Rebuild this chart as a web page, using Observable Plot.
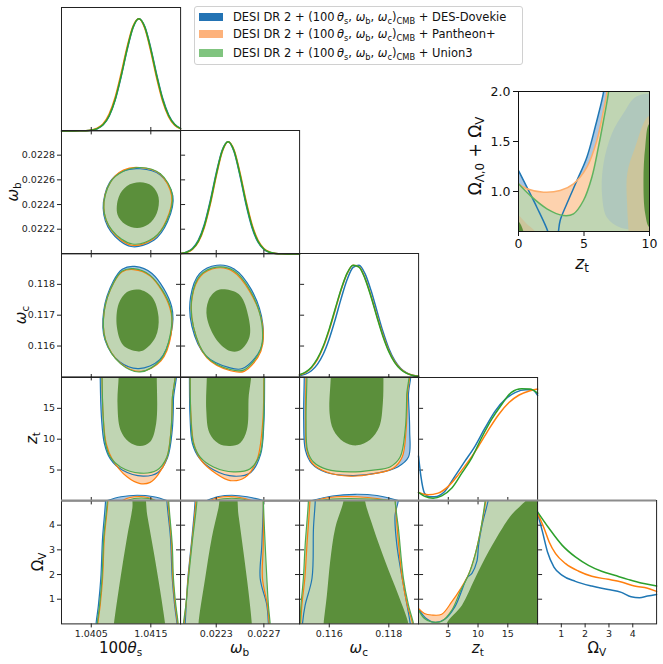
<!DOCTYPE html>
<html><head><meta charset="utf-8">
<script src="https://cdn.jsdelivr.net/npm/d3@7"></script>
<script src="https://cdn.jsdelivr.net/npm/@observablehq/plot@0.6"></script>
<style>
html,body{margin:0;padding:0;background:#fff;}
#fig{position:relative;width:663px;height:664px;overflow:hidden;font-family:"DejaVu Sans",sans-serif;color:#111;}
.lab{position:absolute;white-space:nowrap;transform:translate(-50%,-50%);line-height:1;}
.lab.rot{transform:translate(-50%,-50%) rotate(-90deg);}
.lab sub{font-size:0.7em;vertical-align:-0.3em;line-height:0;}
#legend{position:absolute;left:194px;top:6px;width:327px;height:57px;border:1px solid #d0d0d0;border-radius:3px;background:#fff;font-size:11.5px;}
.item{position:absolute;left:4px;height:14px;display:flex;align-items:center;white-space:nowrap;}
.sw{display:inline-block;width:24px;height:8px;margin-right:10px;}
.item sub{font-size:0.72em;vertical-align:-0.35em;line-height:0;}
</style></head>
<body><div id="fig"></div>
<script>
// ================= DATA =================
const seriesNames = ["DES-Dovekie", "Pantheon+", "Union3"];
const seriesSwatch = ["#2373b4", "#fdb27b", "#80c47f"];

const thDomain = [1.0400, 1.0420], wbDomain = [0.0220, 0.0230], wcDomain = [0.1150, 0.1190], ztDomain = [0, 20], ovDomain = [0, 5];
const thTicks = [1.0405, 1.0415], wbTicksX = [0.0223, 0.0227], wbTicksY = [0.0222, 0.0224, 0.0226, 0.0228];
const wcTicksX = [0.116, 0.118], wcTicksY = [0.116, 0.117, 0.118], ztTicks = [5, 10, 15], ovTicks = [1, 2, 3, 4];
const insetXTicks = [0, 5, 10], insetYTicks = [1.0, 1.5, 2.0];
const rowLabels = ['<i>ω</i><sub>b</sub>', '<i>ω</i><sub>c</sub>', '<i>z</i><sub>t</sub>', 'Ω<sub>V</sub>'];
const colLabels = ['100<i>θ</i><sub>s</sub>', '<i>ω</i><sub>b</sub>', '<i>ω</i><sub>c</sub>', '<i>z</i><sub>t</sub>', 'Ω<sub>V</sub>'];

// 1D marginals
const thetaGrid = [1.0400,1.0401,1.0402,1.0403,1.0404,1.0405,1.0406,1.0407,1.0408,1.0409,1.0410,1.0411,1.0412,1.0413,1.0414,1.0415,1.0416,1.0417,1.0418,1.0419,1.0420];
const thetaPdfB = [0,0,0,0.0003,0.0015,0.005,0.019,0.054,0.131,0.272,0.480,0.718,0.918,1.0,0.928,0.736,0.498,0.288,0.142,0.060,0.022];
const thetaPdfO = [0,0,0,0.0005,0.002,0.008,0.024,0.064,0.150,0.298,0.510,0.745,0.933,1.0,0.912,0.708,0.467,0.262,0.125,0.050,0.018];
const thetaPdfG = [0,0,0,0.0003,0.0015,0.006,0.020,0.056,0.135,0.278,0.487,0.726,0.923,1.0,0.923,0.726,0.487,0.278,0.135,0.056,0.020];

const wbGrid = [0.02200,0.02205,0.02210,0.02215,0.02220,0.02225,0.02230,0.02235,0.02240,0.02245,0.02250,0.02255,0.02260,0.02265,0.02270,0.02275,0.02280,0.02285,0.02290,0.02295,0.02300];
const wbPdfB = [0.0045,0.016,0.048,0.122,0.262,0.474,0.720,0.924,1.0,0.910,0.694,0.442,0.236,0.106,0.040,0.012,0.003,0.0007,0.0001,0,0];
const wbPdfO = [0.0033,0.0125,0.040,0.106,0.236,0.441,0.692,0.908,1.0,0.926,0.722,0.476,0.264,0.123,0.048,0.016,0.0045,0.001,0.0001,0,0];
const wbPdfG = [0.0039,0.0142,0.0439,0.114,0.249,0.458,0.707,0.917,1.0,0.917,0.707,0.458,0.249,0.114,0.0439,0.0142,0.0039,0.0009,0.0001,0,0];

const wcGrid = [0.1150,0.1152,0.1154,0.1156,0.1158,0.1160,0.1162,0.1164,0.1166,0.1168,0.1170,0.1172,0.1174,0.1176,0.1178,0.1180,0.1182,0.1184,0.1186,0.1188,0.1190];
const wcPdfB = [0.010,0.025,0.055,0.112,0.204,0.340,0.512,0.700,0.868,0.976,0.996,0.921,0.772,0.588,0.406,0.253,0.144,0.074,0.035,0.015,0.006];
const wcPdfO = [0.017,0.039,0.082,0.155,0.266,0.418,0.597,0.776,0.920,0.995,0.981,0.882,0.724,0.544,0.373,0.233,0.133,0.070,0.034,0.015,0.006];
const wcPdfG = [0.019,0.042,0.087,0.162,0.275,0.428,0.607,0.784,0.925,0.996,0.978,0.876,0.716,0.534,0.363,0.225,0.127,0.066,0.031,0.013,0.005];

const ztPdfB = [[0,0.40],[0.4,0.22],[1.0,0.07],[1.8,0.036],[2.7,0.036],[4.4,0.084],[6.1,0.219],[7.8,0.354],[9.5,0.489],[11.2,0.653],[12.9,0.803],[14.6,0.907],[16.3,0.968],[18.0,0.99],[19.1,0.99],[20,0.94]];
const ztPdfO = [[0,0.075],[1.6,0.055],[3.3,0.069],[5.0,0.129],[6.7,0.234],[8.4,0.354],[10.1,0.489],[11.8,0.638],[13.5,0.773],[15.2,0.877],[16.9,0.944],[18.6,0.98],[20,0.997]];
const ztPdfG = [[0,0.075],[1.05,0.04],[2.45,0.024],[3.9,0.045],[5.6,0.114],[7.3,0.249],[8.95,0.384],[10.6,0.563],[12.3,0.728],[14.0,0.862],[15.6,0.968],[17.3,1.0],[18.7,0.997],[20,0.96]];

const ovPdfB = [[0,0.99],[0.21,0.82],[0.42,0.641],[0.69,0.507],[1.04,0.433],[1.59,0.379],[2.28,0.337],[2.97,0.307],[3.52,0.281],[3.93,0.241],[4.28,0.233],[4.62,0.248],[5,0.263]];
const ovPdfO = [[0,0.99],[0.28,0.85],[0.49,0.73],[0.76,0.626],[1.18,0.537],[1.73,0.469],[2.28,0.424],[2.97,0.397],[3.52,0.373],[4.07,0.337],[4.62,0.317],[5,0.29]];
const ovPdfG = [[0,1.0],[0.49,0.85],[1.04,0.70],[1.59,0.597],[2.14,0.522],[2.69,0.469],[3.24,0.433],[3.79,0.397],[4.35,0.364],[4.9,0.343],[5,0.338]];

// 2D contours (95% outer for each series, 68% inner for the top series)
const thwb_b95 = [[1.04132,0.02269],[1.04166,0.02264],[1.04187,0.02247],[1.04178,0.02226],[1.04155,0.02211],[1.04117,0.02206],[1.04083,0.02218],[1.04070,0.02237],[1.04081,0.02258],[1.04103,0.02267]];
const thwb_o95 = [[1.04131,0.02270],[1.04165,0.02265],[1.04185,0.02247],[1.04176,0.02227],[1.04154,0.02212],[1.04118,0.02207],[1.04084,0.02219],[1.04071,0.02238],[1.04082,0.02258],[1.04104,0.02268]];
const thwb_g95 = [[1.04132,0.02270],[1.04166,0.02265],[1.04186,0.02248],[1.04177,0.02227],[1.04155,0.02213],[1.04119,0.02208],[1.04085,0.02219],[1.04071,0.02237],[1.04082,0.02258],[1.04104,0.02267]];
const thwb_g68 = [[1.04132,0.02258],[1.04152,0.02255],[1.04163,0.02246],[1.04160,0.02233],[1.04146,0.02224],[1.04127,0.02221],[1.04107,0.02224],[1.04094,0.02232],[1.04096,0.02246],[1.04110,0.02255]];

const thwc_b95 = [[1.04123,0.11858],[1.04152,0.11835],[1.04185,0.11728],[1.04184,0.11640],[1.04165,0.11556],[1.04130,0.11527],[1.04098,0.11548],[1.04073,0.11620],[1.04071,0.11716],[1.04087,0.11810],[1.04102,0.11849]];
const thwc_o95 = [[1.04121,0.11848],[1.04149,0.11827],[1.04182,0.11724],[1.04184,0.11636],[1.04167,0.11552],[1.04134,0.11518],[1.04100,0.11543],[1.04074,0.11620],[1.04072,0.11716],[1.04088,0.11806],[1.04102,0.11841]];
const thwc_g95 = [[1.04121,0.11851],[1.04149,0.11829],[1.04183,0.11726],[1.04183,0.11640],[1.04166,0.11554],[1.04132,0.11516],[1.04099,0.11543],[1.04074,0.11619],[1.04072,0.11716],[1.04088,0.11807],[1.04102,0.11843]];
const thwc_g68 = [[1.04130,0.11783],[1.04152,0.11759],[1.04163,0.11694],[1.04158,0.11629],[1.04138,0.11586],[1.04127,0.11583],[1.04104,0.11602],[1.04093,0.11662],[1.04096,0.11737],[1.04110,0.11775]];

const wbwc_b95 = [[0.022305,0.11862],[0.022450,0.11850],[0.022595,0.11783],[0.022690,0.11673],[0.022672,0.11590],[0.022520,0.11527],[0.022410,0.11530],[0.022210,0.11570],[0.022095,0.11665],[0.022085,0.11760],[0.022160,0.11835]];
const wbwc_o95 = [[0.022305,0.11853],[0.022440,0.11842],[0.022580,0.11778],[0.022688,0.11670],[0.022675,0.11583],[0.022535,0.11518],[0.022420,0.11520],[0.022222,0.11562],[0.022110,0.11660],[0.022098,0.11758],[0.022168,0.11826]];
const wbwc_g95 = [[0.022305,0.11856],[0.022445,0.11845],[0.022585,0.11780],[0.022683,0.11673],[0.022669,0.11586],[0.022529,0.11522],[0.022417,0.11524],[0.022221,0.11565],[0.022109,0.11662],[0.022096,0.11759],[0.022165,0.11829]];
const wbwc_g68 = [[0.022389,0.11783],[0.022501,0.11764],[0.022571,0.11694],[0.022579,0.11629],[0.022501,0.11586],[0.022417,0.11584],[0.022305,0.11619],[0.022221,0.11694],[0.022235,0.11748],[0.022305,0.11780]];

const thzt_b95 = [[1.04065,23],[1.04065,20.2],[1.04067,13.7],[1.04072,9.3],[1.04082,6.8],[1.04102,5.0],[1.04137,4.0],[1.04162,4.6],[1.04178,7.0],[1.04186,11.5],[1.04188,16.4],[1.04188,23]];
const thzt_o95 = [[1.04068,23],[1.04068,20.2],[1.04070,13.7],[1.04075,9.3],[1.04085,6.8],[1.04110,3.9],[1.04132,2.8],[1.04149,3.0],[1.04162,4.2],[1.04177,7.0],[1.04184,11.5],[1.04186,16.4],[1.04186,23]];
const thzt_g95 = [[1.04068,23],[1.04068,20.2],[1.04070,13.7],[1.04074,9.3],[1.04082,7.1],[1.04099,5.5],[1.04132,4.5],[1.04160,4.95],[1.04177,7.1],[1.04184,11.5],[1.04186,16.4],[1.04186,23]];
const thzt_g68 = [[1.04096,23],[1.04096,20.2],[1.04094,15.9],[1.04099,11.5],[1.04113,9.6],[1.04132,8.9],[1.04149,9.6],[1.04159,12.6],[1.04160,20.2],[1.04160,23]];

const wbzt_b95 = [[0.022075,23],[0.022075,20.2],[0.022080,13.7],[0.022100,9.3],[0.022160,6.9],[0.022280,5.0],[0.022450,4.0],[0.022590,4.6],[0.022672,7.5],[0.022700,12.6],[0.022706,20.2],[0.022706,23]];
const wbzt_o95 = [[0.022081,23],[0.022081,20.2],[0.022088,13.7],[0.022112,9.3],[0.022172,6.6],[0.022300,4.4],[0.022417,3.3],[0.022540,3.8],[0.022640,6.5],[0.022690,12.6],[0.022700,20.2],[0.022700,23]];
const wbzt_g95 = [[0.022081,23],[0.022081,20.2],[0.022087,13.7],[0.022109,9.3],[0.022165,7.1],[0.022277,5.5],[0.022445,4.7],[0.022585,5.2],[0.022669,7.7],[0.022696,12.6],[0.022702,20.2],[0.022702,23]];
const wbzt_g68 = [[0.022221,23],[0.022221,20.2],[0.022216,14.8],[0.022243,11.0],[0.022319,9.3],[0.022417,8.9],[0.022501,9.4],[0.022557,11.5],[0.022571,16.4],[0.022571,23]];

const wczt_b95 = [[0.11516,23],[0.11516,20.2],[0.11514,13.1],[0.11520,8.2],[0.11542,6.0],[0.11590,4.6],[0.11680,4.1],[0.11760,4.5],[0.11830,5.5],[0.11866,7.1],[0.11870,11.5],[0.11866,17.0],[0.11864,23]];
const wczt_o95 = [[0.11522,23],[0.11522,20.2],[0.11520,13.1],[0.11525,8.2],[0.11545,6.0],[0.11595,4.6],[0.11670,4.0],[0.11750,4.4],[0.11815,5.3],[0.11845,7.1],[0.11858,11.5],[0.11862,17.0],[0.11860,23]];
const wczt_g95 = [[0.11525,23],[0.11525,20.2],[0.11522,13.1],[0.11527,8.2],[0.11547,6.3],[0.11592,5.1],[0.11670,4.7],[0.11748,5.0],[0.11804,5.5],[0.11838,7.1],[0.11855,11.5],[0.11860,17.0],[0.11858,23]];
const wczt_g68 = [[0.11605,23],[0.11605,20.2],[0.11601,14.2],[0.11614,11.5],[0.11648,9.6],[0.11693,9.0],[0.11737,9.9],[0.11768,12.0],[0.11780,15.9],[0.11782,20.2],[0.11782,23]];

const thov_b95 = [[1.04074,5.5],[1.04074,5.0],[1.04069,3.5],[1.04066,1.85],[1.04062,0.76],[1.04058,0],[1.04057,-0.5],[1.04195,-0.5],[1.04194,0],[1.04190,0.76],[1.04186,1.85],[1.04183,3.5],[1.04177,5.0],[1.04177,5.5]];
const thov_o95 = [[1.04078,5.5],[1.04078,5.0],[1.04072,3.5],[1.04069,1.85],[1.04065,0.76],[1.04061,0],[1.04060,-0.5],[1.04196,-0.5],[1.04195,0],[1.04191,0.76],[1.04187,1.85],[1.04185,3.2],[1.04179,5.0],[1.04179,5.5]];
const thov_g95 = [[1.04077,5.5],[1.04077,5.0],[1.04071,3.5],[1.04068,1.85],[1.04064,0.76],[1.04060,0],[1.04059,-0.5],[1.04197,-0.5],[1.04196,0],[1.04192,0.76],[1.04188,1.85],[1.04186,3.2],[1.04180,5.0],[1.04180,5.5]];
const thov_g68 = [[1.04086,-0.5],[1.04088,0],[1.04099,1.85],[1.04110,3.5],[1.04119,4.7],[1.04121,5.4],[1.04137,5.4],[1.04144,4.4],[1.04155,2.9],[1.04166,1.3],[1.04174,0],[1.04176,-0.5]];
const thov_capB = [[1.04077,5.0],[1.04100,5.15],[1.04127,5.21],[1.04155,5.15],[1.04177,5.0]];
const thov_capO = [[1.04102,5.0],[1.04115,5.12],[1.04130,5.16],[1.04145,5.12],[1.04158,5.0]];
const thov_capG = [[1.04110,5.0],[1.04122,5.08],[1.04134,5.1],[1.04146,5.08],[1.04158,5.0]];

const wbov_b95 = [[0.022123,5.5],[0.022123,5.0],[0.022090,3.2],[0.022062,1.85],[0.022048,0.76],[0.022039,0],[0.022035,-0.5],[0.022742,-0.5],[0.022738,0],[0.022725,0.76],[0.022669,1.85],[0.022683,3.2],[0.022696,5.0],[0.022696,5.5]];
const wbov_o95 = [[0.022130,5.5],[0.022130,5.0],[0.022093,3.2],[0.022064,1.85],[0.022046,0.76],[0.022030,0],[0.022026,-0.5],[0.022748,-0.5],[0.022745,0],[0.022730,0.76],[0.022688,1.85],[0.022695,3.2],[0.022696,5.0],[0.022696,5.5]];
const wbov_g95 = [[0.022138,5.5],[0.022138,5.0],[0.022096,3.2],[0.022067,1.85],[0.022045,0.76],[0.022025,0],[0.022020,-0.5],[0.022758,-0.5],[0.022753,0],[0.022738,0.76],[0.022725,1.85],[0.022711,3.2],[0.022696,5.0],[0.022696,5.5]];
const wbov_g68 = [[0.022151,-0.5],[0.022151,0],[0.022207,1.85],[0.022263,3.5],[0.022319,4.7],[0.022350,5.4],[0.022455,5.4],[0.022487,4.4],[0.022529,2.9],[0.022571,1.3],[0.022599,0],[0.022602,-0.5]];
const wbov_capB = [[0.022221,5.0],[0.022320,5.16],[0.022431,5.21],[0.022560,5.15],[0.022696,5.0]];
const wbov_capO = [[0.022249,5.0],[0.022320,5.12],[0.022403,5.16],[0.022500,5.12],[0.022599,5.0]];
const wbov_capG = [[0.022291,5.0],[0.022360,5.07],[0.022431,5.09],[0.022500,5.07],[0.022571,5.0]];

const wcov_b95 = [[0.11553,5.5],[0.11553,5.0],[0.11547,3.9],[0.11542,1.85],[0.11519,0.76],[0.11510,0],[0.11508,-0.5],[0.11876,-0.5],[0.11872,0],[0.11855,1.17],[0.11827,3.2],[0.11821,4.4],[0.11832,5.0],[0.11832,5.5]];
const wcov_o95 = [[0.11535,5.5],[0.11535,5.0],[0.11525,3.2],[0.11518,1.85],[0.11508,0.76],[0.11504,0],[0.11502,-0.5],[0.11884,-0.5],[0.11880,0],[0.11862,0.76],[0.11845,1.85],[0.11828,3.9],[0.11822,5.0],[0.11822,5.5]];
const wcov_g95 = [[0.11530,5.5],[0.11530,5.0],[0.11519,3.2],[0.11513,1.85],[0.11505,0.76],[0.11502,0],[0.11500,-0.5],[0.11888,-0.5],[0.11883,0],[0.11866,0.76],[0.11849,1.85],[0.11832,3.9],[0.11821,5.0],[0.11821,5.5]];
const wcov_g68 = [[0.11578,-0.5],[0.11581,0],[0.11592,1.17],[0.11603,2.53],[0.11620,3.89],[0.11648,5.0],[0.11648,5.4],[0.11720,5.4],[0.11720,5.0],[0.11748,3.89],[0.11788,2.53],[0.11832,1.17],[0.11866,0],[0.11870,-0.5]];
const wcov_capB = [[0.11542,5.0],[0.11610,5.18],[0.11687,5.25],[0.11760,5.2],[0.11832,5.0]];
const wcov_capO = [[0.11553,5.0],[0.11600,5.12],[0.11653,5.16],[0.11730,5.12],[0.11804,5.0]];
const wcov_capG = [[0.11564,5.0],[0.11610,5.06],[0.11664,5.08],[0.11740,5.06],[0.11810,5.0]];

// z_t vs Omega_V : lower-right boundaries
const ztov_b = [[0,0.60],[1.3,0.22],[2.75,0.06],[4.4,0.19],[6.1,0.69],[7.3,1.37],[8.1,1.85],[9.0,2.06],[9.8,2.53],[10.1,3.21],[10.7,4.03],[11.7,5.0],[12.1,5.6]];
const ztov_o = [[0,0.63],[1.0,0.42],[2.2,0.36],[3.9,0.39],[5.6,0.9],[7.0,1.40],[8.4,2.0],[9.5,2.8],[10.4,3.76],[11.3,5.0],[11.6,5.6]];
const ztov_g = [[0,0.56],[1.0,0.22],[2.2,0.08],[3.9,0.11],[5.6,0.56],[7.0,1.31],[8.4,1.99],[9.5,2.80],[10.4,3.76],[11.2,5.0],[11.5,5.6]];
const ztov_g68 = [[4.7,-0.5],[4.7,0],[7.3,0.76],[9.5,1.85],[11.8,2.94],[14.1,3.89],[15.7,4.44],[17.4,4.85],[18.0,5.0],[18.5,5.6]];

// inset: z_t vs Omega_Lambda0 + Omega_V
const insetXDomain = [0, 10], insetYDomain = [0.6, 2.0];
const inset_bL = [[0,1.21],[0.64,1.043],[1.4,0.843],[2.21,0.61],[2.3,0.55]];
const inset_bR = [[3.0,0.55],[3.05,0.6],[3.18,0.71],[3.69,0.877],[4.46,1.11],[5.22,1.343],[5.85,1.643],[6.49,1.993],[6.55,2.1]];
const inset_o = [[0,1.077],[0.64,1.027],[1.91,0.993],[3.18,1.01],[4.2,1.077],[5.22,1.243],[5.98,1.51],[6.49,1.81],[6.75,1.993],[6.8,2.1]];
const inset_g = [[0,1.077],[0.89,0.96],[2.17,0.827],[3.44,0.76],[4.2,0.777],[4.96,0.91],[5.6,1.143],[6.1,1.443],[6.49,1.71],[6.87,1.993],[6.92,2.1]];
const insetTeal = [[8.0,1.78],[7.13,1.58],[6.49,1.28],[6.37,0.98],[6.75,0.74],[7.76,0.64],[9.29,0.6],[9.4,0.55],[10.5,0.55],[10.5,1.95],[9.0,1.95]];
const insetTan = [[9.9,1.75],[8.9,1.44],[8.3,1.18],[8.3,0.84],[8.4,0.6],[8.4,0.55],[10.5,0.55],[10.5,1.75]];
const insetDark = [[10,1.68],[9.67,1.44],[9.54,1.11],[9.67,0.78],[10,0.64],[10.5,0.64],[10.5,1.68]];
const insetTanL = [[-0.5,0.78],[0,0.76],[0.6,0.68],[1.27,0.6],[1.35,0.55],[-0.5,0.55]];
const insetDarkL = [[-0.5,0.72],[0,0.70],[0.38,0.6],[0.42,0.55],[-0.5,0.55]];

// ================= DRAWING =================
const C = {blue:"#1f77b4", orange:"#ff7f0e", green:"#2ca02c", gline:"#4fa94f",
  lb:"#a9c6e2", lo:"#fdd2ae", lg:"#c0d5b3", dg:"#5b8f3b", teal:"#b0c8bc", tan:"#cbc59c", frame:"#222"};
const fig = document.getElementById("fig");
const W = 119.1, H = 123.4;
const colLeft = c => 61 + c * W, rowTop = r => 6.5 + r * H;
const f4 = d => d.toFixed(4), f3 = d => d.toFixed(3), fi = d => String(d);
const X = d => d[0], Y = d => d[1];

function place(el, left, top) {
  el.style.position = "absolute"; el.style.left = left + "px"; el.style.top = top + "px";
  fig.appendChild(el);
}
const fillShape = (data, fill) => Plot.line(data, {x: X, y: Y, curve: "catmull-rom-closed", fill, stroke: "none", clip: true});
const edgeShape = (data, stroke) => Plot.line(data, {x: X, y: Y, curve: "catmull-rom-closed", fill: "none", stroke, strokeWidth: 1.2, clip: true});
const openEdge = (data, stroke, sw = 1.3) => Plot.line(data, {x: X, y: Y, curve: "catmull-rom", stroke, strokeWidth: sw, clip: true});
const capShape = (data, fill, stroke) => Plot.line(data, {x: X, y: Y, curve: "catmull-rom", fill, stroke, strokeWidth: 1.1});
function contour(b, o, g, g68) {
  return [fillShape(b, C.lb), fillShape(o, C.lo), fillShape(g, C.lg), fillShape(g68, C.dg),
          edgeShape(b, C.blue), edgeShape(o, C.orange), edgeShape(g, C.gline)];
}
function caps(b, o, g) {
  return [capShape(b, C.lb, C.blue), capShape(o, C.lo, C.orange), capShape(g, C.lg, C.gline)];
}
function pdfLines(grid, b, o, g) {
  const mk = (arr, stroke) => grid
    ? Plot.line(arr, {x: (d, i) => grid[i], y: d => d, stroke, strokeWidth: 1.5, curve: "monotone-x"})
    : Plot.line(arr, {x: X, y: Y, stroke, strokeWidth: 1.5, curve: "monotone-x"});
  return [mk(b, C.blue), mk(o, C.orange), mk(g, C.green)];
}

function panel(c, r, o) {
  const ml = c === 0 ? 62 : 8, mr = 8, mt = 8, mb = r === 4 ? 32 : 8;
  const ax = [];
  ax.push(Plot.axisX(o.xt, {anchor: "bottom", tickSize: 4, tickPadding: 2.5, tickFormat: o.fx,
    fill: r === 4 ? C.frame : "none", stroke: C.frame, label: null}));
  if (!o.is1d) {
    ax.push(Plot.axisX(o.xt, {anchor: "top", tickSize: 4, fill: "none", stroke: C.frame, label: null}));
    ax.push(Plot.axisY(o.yt, {anchor: "left", tickSize: 4, tickPadding: 2.5, tickFormat: o.fy,
      fill: c === 0 ? C.frame : "none", stroke: C.frame, label: null}));
    ax.push(Plot.axisY(o.yt, {anchor: "right", tickSize: 4, fill: "none", stroke: C.frame, label: null}));
  }
  const extra = r === 4 ? [Plot.ruleY([o.yd[1]], {stroke: "#8c8c8c", strokeWidth: 2})] : [];
  const svg = Plot.plot({
    width: W + ml + mr, height: H + mt + mb,
    marginLeft: ml, marginRight: mr, marginTop: mt, marginBottom: mb,
    x: {domain: o.xd, axis: null}, y: {domain: o.yd, axis: null},
    style: {background: "transparent", overflow: "visible", fontFamily: "DejaVu Sans, sans-serif", fontSize: "9.5px", color: C.frame},
    marks: [...o.marks, Plot.frame({stroke: C.frame}), ...ax, ...extra]
  });
  place(svg, colLeft(c) - ml, rowTop(r) - mt);
}

const pdfY = [0, 1.1];
// row 0
panel(0, 0, {is1d: true, xd: thDomain, yd: pdfY, xt: thTicks, marks: pdfLines(thetaGrid, thetaPdfB, thetaPdfO, thetaPdfG)});
// row 1
panel(0, 1, {xd: thDomain, yd: wbDomain, xt: thTicks, yt: wbTicksY, fy: f4, marks: contour(thwb_b95, thwb_o95, thwb_g95, thwb_g68)});
panel(1, 1, {is1d: true, xd: wbDomain, yd: pdfY, xt: wbTicksX, marks: pdfLines(wbGrid, wbPdfB, wbPdfO, wbPdfG)});
// row 2
panel(0, 2, {xd: thDomain, yd: wcDomain, xt: thTicks, yt: wcTicksY, fy: f3, marks: contour(thwc_b95, thwc_o95, thwc_g95, thwc_g68)});
panel(1, 2, {xd: wbDomain, yd: wcDomain, xt: wbTicksX, yt: wcTicksY, marks: contour(wbwc_b95, wbwc_o95, wbwc_g95, wbwc_g68)});
panel(2, 2, {is1d: true, xd: wcDomain, yd: pdfY, xt: wcTicksX, marks: pdfLines(wcGrid, wcPdfB, wcPdfO, wcPdfG)});
// row 3
panel(0, 3, {xd: thDomain, yd: ztDomain, xt: thTicks, yt: ztTicks, fy: fi, marks: contour(thzt_b95, thzt_o95, thzt_g95, thzt_g68)});
panel(1, 3, {xd: wbDomain, yd: ztDomain, xt: wbTicksX, yt: ztTicks, marks: contour(wbzt_b95, wbzt_o95, wbzt_g95, wbzt_g68)});
panel(2, 3, {xd: wcDomain, yd: ztDomain, xt: wcTicksX, yt: ztTicks, marks: contour(wczt_b95, wczt_o95, wczt_g95, wczt_g68)});
panel(3, 3, {is1d: true, xd: ztDomain, yd: pdfY, xt: ztTicks, marks: pdfLines(null, ztPdfB, ztPdfO, ztPdfG)});
// row 4
panel(0, 4, {xd: thDomain, yd: ovDomain, xt: thTicks, yt: ovTicks, fx: f4, fy: fi,
  marks: [...caps(thov_capB, thov_capO, thov_capG), ...contour(thov_b95, thov_o95, thov_g95, thov_g68)]});
panel(1, 4, {xd: wbDomain, yd: ovDomain, xt: wbTicksX, yt: ovTicks, fx: f4,
  marks: [...caps(wbov_capB, wbov_capO, wbov_capG), ...contour(wbov_b95, wbov_o95, wbov_g95, wbov_g68)]});
panel(2, 4, {xd: wcDomain, yd: ovDomain, xt: wcTicksX, yt: ovTicks, fx: f3,
  marks: [...caps(wcov_capB, wcov_capO, wcov_capG), ...contour(wcov_b95, wcov_o95, wcov_g95, wcov_g68)]});
const ztCorner = [[21, 5.6], [21, -1], [-1, -1]];
const ztPoly = a => [...a, ...ztCorner, [-1, a[0][1]]];
panel(3, 4, {xd: ztDomain, yd: ovDomain, xt: ztTicks, yt: ovTicks, fx: fi,
  marks: [fillShape(ztPoly(ztov_b), C.lb), fillShape(ztPoly(ztov_o), C.lo), fillShape(ztPoly(ztov_g), C.lg),
          fillShape([...ztov_g68, [21, 5.6], [21, -0.5]], C.dg),
          openEdge(ztov_b, C.blue, 1.2), openEdge(ztov_o, C.orange, 1.2), openEdge(ztov_g, C.gline, 1.2)]});
panel(4, 4, {is1d: true, xd: ovDomain, yd: pdfY, xt: ovTicks, fx: fi, marks: pdfLines(null, ovPdfB, ovPdfO, ovPdfG)});

// inset
{
  const iL = 518.3, iT = 91, iW = 131, iH = 140, ml = 50, mr = 6, mt = 8, mb = 30;
  const R = 10.5, B = 0.5, T = 2.1, Lx = -0.5;
  const svg = Plot.plot({
    width: iW + ml + mr, height: iH + mt + mb, marginLeft: ml, marginRight: mr, marginTop: mt, marginBottom: mb,
    x: {domain: insetXDomain, axis: null}, y: {domain: insetYDomain, axis: null},
    style: {background: "transparent", overflow: "visible", fontFamily: "DejaVu Sans, sans-serif", fontSize: "12.5px", color: "#111"},
    marks: [
      fillShape([[Lx, 1.25], ...inset_bL, [2.35, B], [Lx, B]], C.lb),
      fillShape([...inset_bR, [R, T], [R, B], [3.0, B]], C.lb),
      fillShape([[Lx, 1.08], ...inset_o, [R, T], [R, B], [Lx, B]], C.lo),
      fillShape([[Lx, 1.08], ...inset_g, [R, T], [R, B], [Lx, B]], C.lg),
      fillShape(insetTeal, C.teal),
      fillShape(insetTan, C.tan),
      fillShape(insetDark, C.dg),
      fillShape(insetTanL, C.tan),
      fillShape(insetDarkL, C.dg),
      openEdge(inset_bL, C.blue, 1.5), openEdge(inset_bR, C.blue, 1.5),
      openEdge(inset_o, "#fdae6b", 1.5), openEdge(inset_g, "#5fb35f", 1.5),
      Plot.frame({stroke: "#111"}),
      Plot.axisX(insetXTicks, {anchor: "bottom", tickSize: 5, tickPadding: 3, tickFormat: fi, label: null, stroke: "#111", fill: "#111"}),
      Plot.axisY(insetYTicks, {anchor: "left", tickSize: 5, tickPadding: 3, tickFormat: d3.format(".1f"), label: null, stroke: "#111", fill: "#111"})
    ]
  });
  place(svg, iL - ml, iT - mt);
}

// labels (HTML text)
function label(html, x, y, size, rot) {
  const d = document.createElement("div");
  d.className = "lab" + (rot ? " rot" : "");
  d.innerHTML = html; d.style.left = x + "px"; d.style.top = y + "px"; d.style.fontSize = size + "px";
  fig.appendChild(d);
}
const rowLabelX = [13, 21, 32, 38];
rowLabels.forEach((t, i) => label(t, rowLabelX[i], rowTop(i + 1) + H / 2, 15, true));
colLabels.forEach((t, i) => label(t, colLeft(i) + W / 2, 648, 15, false));
label('Ω<sub>Λ,0</sub> + Ω<sub>V</sub>', 475, 156, 17, true);
label('<i>z</i><sub>t</sub>', 582, 263, 17, false);

// legend
{
  const lg = document.createElement("div"); lg.id = "legend";
  const tops = [3, 20.3, 38.7];
  seriesNames.forEach((n, i) => {
    const it = document.createElement("div"); it.className = "item"; it.style.top = tops[i] + "px";
    it.innerHTML = `<span class="sw" style="background:${seriesSwatch[i]}"></span><span>DESI DR 2 + (100\u2009<i>θ</i><sub>s</sub>, <i>ω</i><sub>b</sub>, <i>ω</i><sub>c</sub>)<sub>CMB</sub> + ${n}</span>`;
    lg.appendChild(it);
  });
  fig.appendChild(lg);
}
</script>
</body></html>
